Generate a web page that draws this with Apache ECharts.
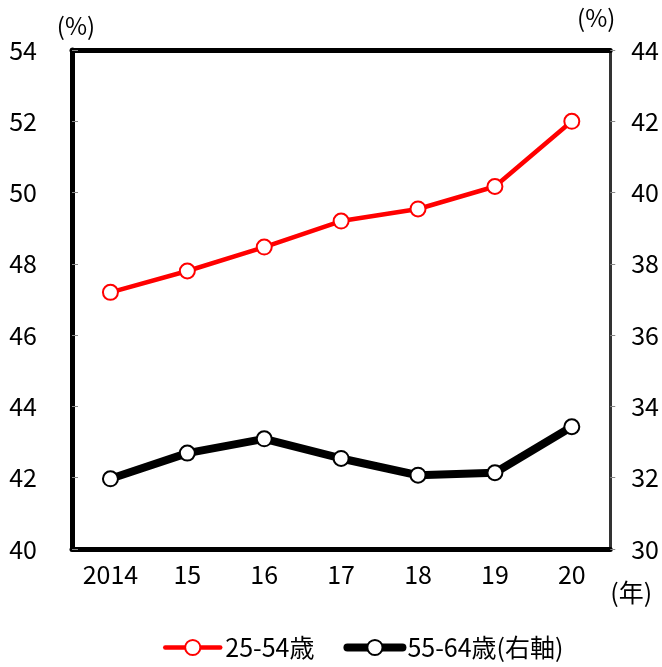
<!DOCTYPE html>
<html>
<head>
<meta charset="utf-8">
<script src="https://cdn.jsdelivr.net/npm/echarts@6/dist/echarts.min.js"></script>
<style>
  html, body { margin: 0; padding: 0; background: #fff; }
  #chart { width: 662px; height: 667px; }
</style>
</head>
<body>
<div id="chart"></div>
<script>
// Years on the horizontal axis
const years = ['2014', '15', '16', '17', '18', '19', '20'];
// Share of 25-54 year-olds (left axis, %)
const age25to54 = [47.2, 47.8, 48.47, 49.2, 49.54, 50.17, 52.0];
// Share of 55-64 year-olds (right axis, %)
const age55to64 = [31.97, 32.69, 33.09, 32.54, 32.07, 32.14, 33.43];

const seriesNames = ['25-54歳', '55-64歳(右軸)'];
const RED = '#ff0000';
const BLACK = '#000000';
const FONT = "'Liberation Sans Narrow', 'Noto Sans CJK JP', sans-serif";
const LABEL_SIZE = 25;

const chart = echarts.init(document.getElementById('chart'), null, { renderer: 'canvas' });

chart.setOption({
  backgroundColor: '#ffffff',
  animation: false,
  textStyle: { fontFamily: FONT, color: '#000' },
  grid: { left: 72, right: 50, top: 50, bottom: 118, containLabel: false },
  legend: {
    left: 158,
    top: 630,
    itemWidth: 55,
    itemHeight: 19,
    itemGap: 29,
    textStyle: { fontFamily: FONT, fontSize: LABEL_SIZE, color: '#000' },
    data: [
      {
        name: seriesNames[0],
        itemStyle: { color: '#fff', borderColor: RED, borderWidth: 2 },
        lineStyle: { color: RED, width: 4.5, cap: 'round' }
      },
      {
        name: seriesNames[1],
        itemStyle: { color: '#fff', borderColor: BLACK, borderWidth: 2 },
        lineStyle: { color: BLACK, width: 8, cap: 'round' }
      }
    ]
  },
  xAxis: [
    {
      type: 'category',
      data: years,
      boundaryGap: true,
      position: 'bottom',
      name: '(年)',
      nameLocation: 'end',
      nameGap: 0,
      nameTextStyle: { fontFamily: FONT, fontSize: 25, verticalAlign: 'top', padding: [31, 0, 0, 0] },
      axisLine: { lineStyle: { color: BLACK, width: 5 } },
      axisTick: { inside: true, length: 6, lineStyle: { color: BLACK, width: 1.5 } },
      axisLabel: { interval: 0, fontFamily: FONT, fontSize: LABEL_SIZE, color: '#000', margin: 13 }
    },
    {
      type: 'category',
      data: years,
      position: 'top',
      axisLine: { lineStyle: { color: BLACK, width: 5 } },
      axisTick: { show: false },
      axisLabel: { show: false }
    }
  ],
  yAxis: [
    {
      type: 'value',
      position: 'left',
      min: 40,
      max: 54,
      interval: 2,
      name: '(%)',
      nameLocation: 'end',
      nameGap: 12,
      nameTextStyle: { fontFamily: FONT, fontSize: 24, color: '#000', padding: [0, 0, 0, 8] },
      axisLine: { show: true, lineStyle: { color: BLACK, width: 5 } },
      axisTick: { show: true, inside: true, length: 6, lineStyle: { color: '#888', width: 1 } },
      axisLabel: { fontFamily: FONT, fontSize: LABEL_SIZE, color: '#000', margin: 35 },
      splitLine: { show: false }
    },
    {
      type: 'value',
      position: 'right',
      min: 30,
      max: 44,
      interval: 2,
      name: '(%)',
      nameLocation: 'end',
      nameGap: 20,
      nameTextStyle: { fontFamily: FONT, fontSize: 24, color: '#000', padding: [0, 28, 0, 0] },
      axisLine: { show: true, lineStyle: { color: '#333', width: 3 } },
      axisTick: { show: true, inside: false, length: 5, lineStyle: { color: '#888', width: 1 } },
      axisLabel: { fontFamily: FONT, fontSize: LABEL_SIZE, color: '#000', margin: 21 },
      splitLine: { show: false }
    }
  ],
  series: [
    {
      name: seriesNames[0],
      type: 'line',
      xAxisIndex: 0,
      yAxisIndex: 0,
      data: age25to54,
      symbol: 'circle',
      symbolSize: 15,
      showAllSymbol: true,
      lineStyle: { color: RED, width: 4.5 },
      itemStyle: { color: '#fff', borderColor: RED, borderWidth: 2 },
      z: 3
    },
    {
      name: seriesNames[1],
      type: 'line',
      xAxisIndex: 0,
      yAxisIndex: 1,
      data: age55to64,
      symbol: 'circle',
      symbolSize: 15,
      showAllSymbol: true,
      lineStyle: { color: BLACK, width: 8 },
      itemStyle: { color: '#fff', borderColor: BLACK, borderWidth: 2 },
      z: 3
    }
  ]
});
</script>
</body>
</html>
